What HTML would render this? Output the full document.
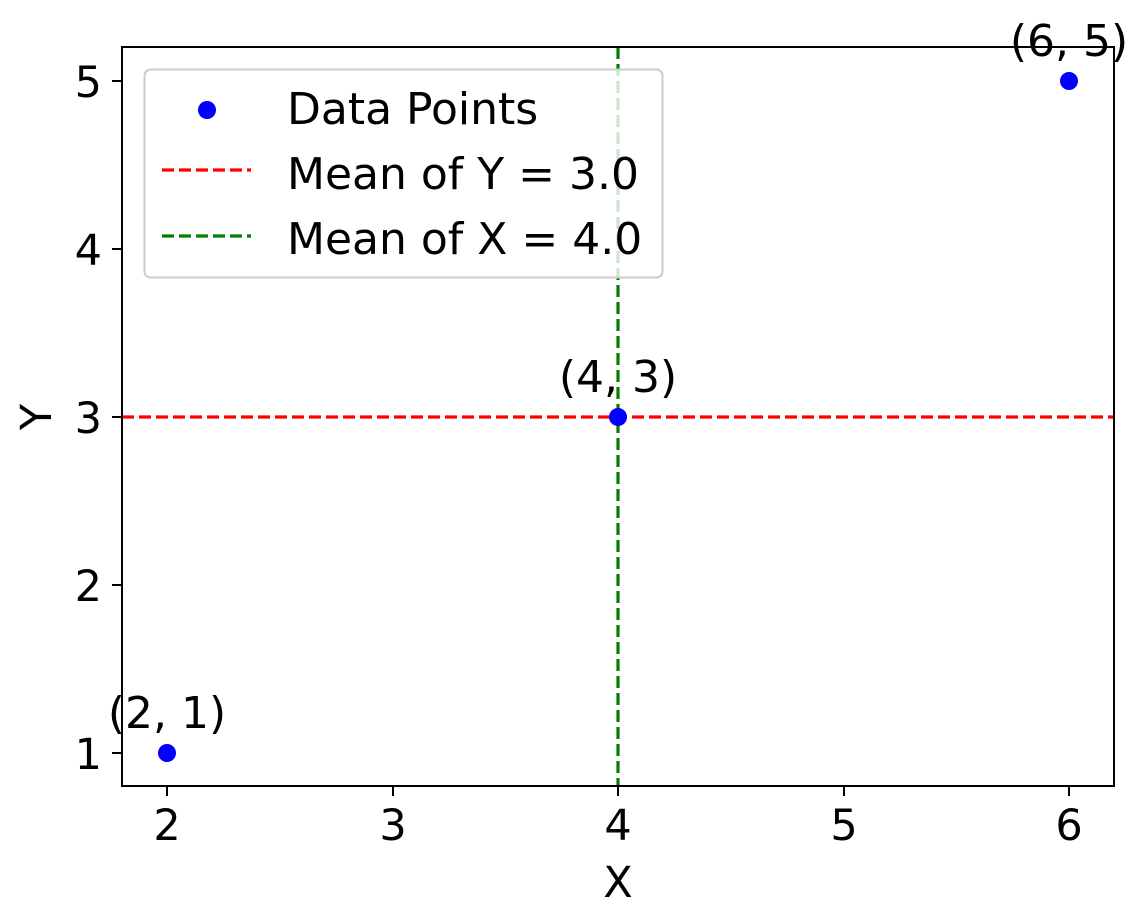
<!DOCTYPE html>
<html><head><meta charset="utf-8"><style>body{margin:0;background:#fff}svg{display:block}text{font-family:"DejaVu Sans","Liberation Sans",sans-serif;fill:#000}</style></head><body>
<svg width="1148" height="923" viewBox="0 0 1148 923" xmlns="http://www.w3.org/2000/svg">
<rect width="1148" height="923" fill="#fff"/>
<line x1="122" y1="417" x2="1114" y2="417" stroke="#ff0000" stroke-width="3.2" stroke-dasharray="12,5"/>
<line x1="618" y1="47" x2="618" y2="786" stroke="#008000" stroke-width="3.2" stroke-dasharray="12,5"/>
<circle cx="167" cy="753" r="9" fill="#0000ff"/>
<circle cx="618" cy="417" r="9" fill="#0000ff"/>
<circle cx="1069" cy="81" r="9" fill="#0000ff"/>
<g font-size="44" text-anchor="middle">
<text x="167" y="728">(2, 1)</text>
<text x="618" y="392">(4, 3)</text>
<text x="1069" y="56">(6, 5)</text>
</g>
<rect x="122" y="47" width="992" height="739" fill="none" stroke="#000" stroke-width="2"/>
<g stroke="#000" stroke-width="2">
<line x1="167" y1="786" x2="167" y2="796"/><line x1="393" y1="786" x2="393" y2="796"/><line x1="618" y1="786" x2="618" y2="796"/><line x1="844" y1="786" x2="844" y2="796"/><line x1="1069" y1="786" x2="1069" y2="796"/>
<line x1="112" y1="753" x2="122" y2="753"/><line x1="112" y1="585" x2="122" y2="585"/><line x1="112" y1="417" x2="122" y2="417"/><line x1="112" y1="249" x2="122" y2="249"/><line x1="112" y1="81" x2="122" y2="81"/>
</g>
<g font-size="43" text-anchor="middle">
<text x="167" y="840">2</text><text x="393" y="840">3</text><text x="618" y="840">4</text><text x="844" y="840">5</text><text x="1069" y="840">6</text>
<text x="618" y="897">X</text>
</g>
<g font-size="43" text-anchor="end">
<text x="102" y="769">1</text><text x="102" y="601">2</text><text x="102" y="433">3</text><text x="102" y="265">4</text><text x="102" y="97">5</text>
</g>
<text x="0" y="0" font-size="43" text-anchor="middle" transform="translate(51,417) rotate(-90)">Y</text>
<rect x="144.5" y="69.5" width="518" height="208" rx="6" fill="#fff" fill-opacity="0.8" stroke="#cccccc" stroke-width="2"/>
<circle cx="207" cy="110" r="9" fill="#0000ff"/>
<line x1="162" y1="170" x2="251" y2="170" stroke="#ff0000" stroke-width="3.2" stroke-dasharray="12,5"/>
<line x1="162" y1="236" x2="251" y2="236" stroke="#008000" stroke-width="3.2" stroke-dasharray="12,5"/>
<g font-size="44">
<text x="287" y="124">Data Points</text>
<text x="287" y="189">Mean of Y = 3.0</text>
<text x="287" y="254">Mean of X = 4.0</text>
</g>
</svg>
</body></html>
